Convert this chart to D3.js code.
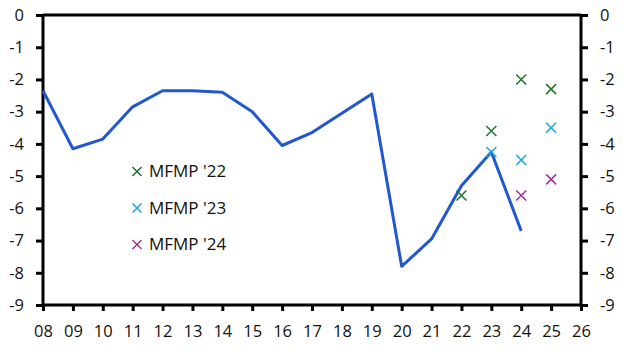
<!DOCTYPE html>
<html><head><meta charset="utf-8">
<script src="https://cdn.jsdelivr.net/npm/d3@7"></script>
<style>
body{margin:0;background:#fff;}
text{font-family:"Open Sans","Noto Sans",sans-serif;font-size:16.5px;fill:#111;}
</style></head>
<body><svg id="c" width="631" height="357"></svg>
<script>
const years = [2008,2009,2010,2011,2012,2013,2014,2015,2016,2017,2018,2019,2020,2021,2022,2023,2024];
const balance = [-2.35,-4.15,-3.85,-2.85,-2.35,-2.35,-2.4,-3.0,-4.05,-3.65,-3.05,-2.45,-7.8,-6.95,-5.3,-4.25,-6.7];
const mfmp22Years = [2022,2023,2024,2025];
const mfmp22 = [-5.6,-3.6,-2.0,-2.3];
const mfmp23Years = [2023,2024,2025];
const mfmp23 = [-4.25,-4.5,-3.5];
const mfmp24Years = [2024,2025];
const mfmp24 = [-5.6,-5.1];
const yTicks = [0,-1,-2,-3,-4,-5,-6,-7,-8,-9];
const xTicks = d3.range(2008,2027);
const legendLabels = ["MFMP '22","MFMP '23","MFMP '24"];

const svg = d3.select("#c");
const L=43,R=581,T=15,B=305;
const x = d3.scaleLinear().domain([2008,2026]).range([L,R]);
const y = d3.scaleLinear().domain([-9,0]).range([B,T]);
const colors = ["#21772f","#1fa8e0","#a1369a"];

// frame top
svg.append("line").attr("x1",L).attr("x2",R).attr("y1",T).attr("y2",T).attr("stroke","#000").attr("stroke-width",3);

const fmtY = d=>d===0?"0":"-"+Math.abs(d);
const yl = svg.append("g").attr("transform",`translate(${L},0)`)
  .call(d3.axisLeft(y).tickValues(yTicks).tickSize(7).tickPadding(12).tickFormat(fmtY));
const yr = svg.append("g").attr("transform",`translate(${R},0)`)
  .call(d3.axisRight(y).tickValues(yTicks).tickSize(7).tickPadding(12).tickFormat(fmtY));
const xb = svg.append("g").attr("transform",`translate(0,${B})`)
  .call(d3.axisBottom(x).tickValues(xTicks).tickSize(6).tickPadding(14).tickFormat(d=>String(d%100).padStart(2,"0")));
[yl,yr,xb].forEach(g=>{
  g.selectAll("path.domain").attr("stroke","#000").attr("stroke-width",3);
  g.selectAll(".tick line").attr("stroke","#000").attr("stroke-width",3);
  g.selectAll("text").attr("font-size",null).attr("font-family",null).style("font-size","16.5px").attr("fill","#111");
});
yl.select("path.domain").attr("d",`M0,${B}V${T}`);
yr.select("path.domain").attr("d",`M0,${B}V${T}`);
xb.select("path.domain").attr("d",`M${L},0H${R}`);

svg.append("path").datum(years.map((yr,i)=>[yr,balance[i]]))
  .attr("fill","none").attr("stroke","#2158d0").attr("stroke-width",3).attr("stroke-linejoin","round")
  .attr("d",d3.line().x(d=>x(d[0])).y(d=>y(d[1])));

function cross(g,cx,cy,col,s){
  g.append("path").attr("d",`M${cx-s},${cy-s}L${cx+s},${cy+s}M${cx-s},${cy+s}L${cx+s},${cy-s}`)
   .attr("stroke",col).attr("stroke-width",1.6).attr("fill","none");
}
const sets=[[mfmp22Years,mfmp22],[mfmp23Years,mfmp23],[mfmp24Years,mfmp24]];
sets.forEach((s,k)=>{
  s[0].forEach((yr,i)=>cross(svg,x(yr),y(s[1][i]),colors[k],5));
});

legendLabels.forEach((lab,k)=>{
  const ly = 171.5 + k*36.5;
  cross(svg,137,ly,colors[k],4.5);
  svg.append("text").attr("x",149).attr("y",ly).attr("dy","0.35em").style("font-size","17px").text(lab);
});
</script></body></html>
